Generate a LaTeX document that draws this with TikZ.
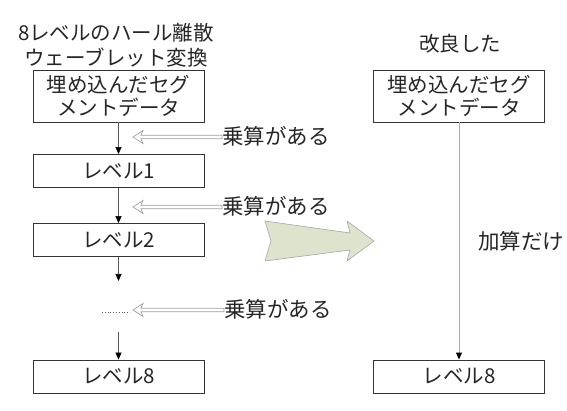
\documentclass[tikz,border=0pt]{standalone}
\usepackage{fontspec}
\newfontfamily\cjk{Noto Sans CJK JP}
\usetikzlibrary{arrows.meta,calc}
\definecolor{bigfill}{HTML}{DDE3CD}
\definecolor{lineg}{HTML}{555555}
\definecolor{lightg}{HTML}{AAAAAA}
\definecolor{hollowg}{HTML}{A0A0A0}
\tikzset{
  every node/.style={font=\cjk\fontsize{20.5}{23}\selectfont, text=black!85},
  boxA/.style={draw=black!80, line width=0.9pt, minimum width=171pt, minimum height=52pt, inner sep=0pt, align=center},
  boxB/.style={draw=black!80, line width=0.9pt, minimum width=171pt, minimum height=33pt, inner sep=0pt},
  conn/.style={draw=lineg, line width=0.7pt, -{Triangle[length=7pt,width=6pt,color=black]}},
  connR/.style={draw=lightg, line width=0.9pt, -{Triangle[length=7pt,width=6pt,color=black]}},
  hollow/.style={draw=hollowg, line width=0.7pt, fill=white},
  lab/.style={anchor=west, inner sep=0pt, font=\cjk\fontsize{21.5}{23}\selectfont}
}
\begin{document}
\begin{tikzpicture}[x=1pt,y=-1pt]
\useasboundingbox (0,0) rectangle (567,411);
% left column
\node[align=center, inner sep=0pt, font=\cjk\fontsize{20.5}{25}\selectfont] (t1) at (116,45) {8レベルのハール離散\\ウェーブレット変換};
\node[boxA] (b1) at (118.5,96) {埋め込んだセグ\\メントデータ};
\node[boxB] (l1) at (118.5,171) {レベル1};
\node[boxB] (l2) at (118.5,240) {レベル2};
\node[boxB] (l8) at (118.5,376.5) {レベル8};
\coordinate (c1) at (118.5,281);
\coordinate (c2) at (118.5,332);
\coordinate (d1) at (102,312);
\coordinate (d2) at (130,312);
\draw[conn] (b1.south) -- (l1.north);
\draw[conn] (l1.south) -- (l2.north);
\draw[conn] (l2.south) -- (c1);
\draw[conn] (c2) -- (l8.north);
\draw[lineg, line width=0.8pt, dotted] (d1) -- (d2);
% hollow arrows with labels
\node[lab] (m1) at (222,136) {乗算がある};
\node[lab] (m2) at (222,206) {乗算がある};
\node[lab] (m3) at (224,309) {乗算がある};
\foreach \m in {m1,m2,m3}{
  \draw[hollow] let \p1=($(\m.west)+(0,1)$) in
    (\x1,\y1-1.8) -- (141pt,\y1-1.8) -- (143pt,\y1-6.5) -- (133pt,\y1) -- (143pt,\y1+6.5) -- (141pt,\y1+1.8) -- (\x1,\y1+1.8) -- cycle;
}
% big arrow
\draw[fill=bigfill, draw=gray!70, line width=0.6pt]
  (265,221) -- (350,233) -- (347,221) -- (374,241) -- (347,261) -- (350,250) -- (265,261) -- (271,241) -- cycle;
% right column
\node[inner sep=0pt] (t2) at (460,44) {改良した};
\node[boxA] (rb1) at (459,96) {埋め込んだセグ\\メントデータ};
\node[boxB] (rl8) at (459,376.5) {レベル8};
\draw[connR] (rb1.south) -- (rl8.north);
\node[lab] (add) at (478,241) {加算だけ};
\end{tikzpicture}
\end{document}
